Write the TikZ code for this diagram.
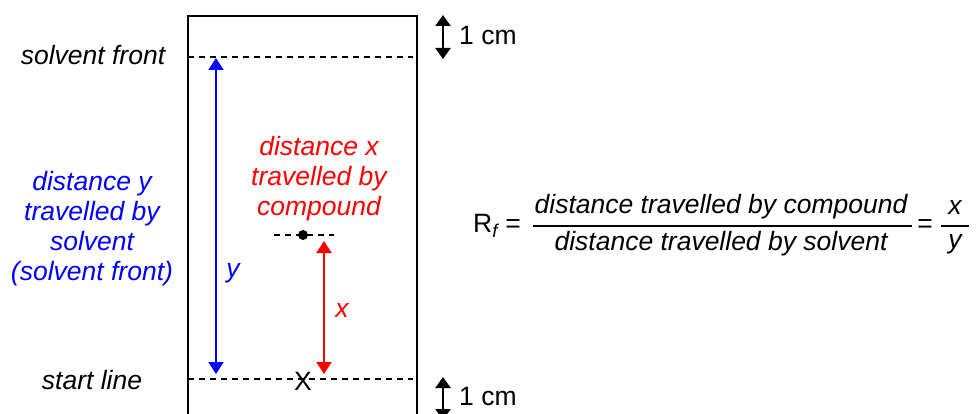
\documentclass[tikz,border=0pt]{standalone}
\usepackage{fontspec}
\setmainfont{Liberation Sans}
\usetikzlibrary{arrows.meta}
\begin{document}
\begin{tikzpicture}[x=1pt,y=-1pt,
  lbl/.style={font=\fontsize{26.5}{30}\selectfont\itshape, align=center, inner sep=0pt},
  rlbl/.style={font=\fontsize{26.5}{30}\selectfont, inner sep=0pt},
  dline/.style={line width=1.4pt, dash pattern=on 6pt off 5pt},
  dtip/.style={{Triangle[length=12pt,width=15pt]}-{Triangle[length=12pt,width=15pt]}},
  meas/.style={line width=2.2pt, {Triangle[length=11pt,width=15pt]}-{Triangle[length=11pt,width=15pt]}}
]
\useasboundingbox (0,0) rectangle (979,414);
% plate
\coordinate (pbl) at (188,414.5);
\coordinate (ptl) at (188,16);
\coordinate (ptr) at (417,16);
\coordinate (pbr) at (417,414.5);
\draw[line width=1.4pt] (pbl) -- (ptl) -- (ptr) -- (pbr);
% solvent front and start line
\coordinate (sfl) at (188,57);
\coordinate (sfr) at (413,57);
\coordinate (sll) at (188,379);
\coordinate (slr) at (413,379);
\draw[dline] (sfl) -- (sfr);
\draw[dline] (sll) -- (slr);
% spot line
\coordinate (spl) at (274,235);
\coordinate (spr) at (334,235);
\draw[dline] (spl) -- (spr);
\node[circle, fill=black, inner sep=0pt, minimum size=10pt] (spot) at (303,235) {};
% start mark
\node[rlbl] (xmark) at (303,381) {X};
% blue arrow
\coordinate (bt) at (216,58);
\coordinate (bb) at (216,374);
\draw[blue, line width=2.2pt, dtip] (bt) -- (bb);
\node[lbl, blue] (ylab) at (233,273) {y};
% red arrow
\coordinate (rt) at (324,241);
\coordinate (rb) at (324,374);
\draw[red, line width=2.2pt, dtip] (rt) -- (rb);
\node[lbl, red] (xlab) at (342,310) {x};
% 1 cm markers
\coordinate (ct1) at (443,15);
\coordinate (cb1) at (443,59);
\draw[meas] (ct1) -- (cb1);
\node[rlbl, anchor=west] (cm1) at (459,36) {1 cm};
\coordinate (ct2) at (443,377);
\coordinate (cb2) at (443,420);
\draw[meas] (ct2) -- (cb2);
\node[rlbl, anchor=west] (cm2) at (459,397) {1 cm};
% left labels
\node[lbl] (sflab) at (93,55) {solvent front};
\node[lbl] (sllab) at (92,380) {start line};
\node[lbl, blue] (ylong) at (92,229) {distance y\\travelled by\\solvent\\(solvent front)};
\node[lbl, red] (xlong) at (319,179) {distance x\\travelled by\\compound};
% formula
\node[rlbl, anchor=west] (rf) at (473,226) {R\textsubscript{\itshape f} =};
\node[lbl] (num) at (721,207) {distance travelled by compound};
\node[lbl] (den) at (721,244) {distance travelled by solvent};
\coordinate (b1l) at (533,226);
\coordinate (b1r) at (912,226);
\draw[line width=1.5pt] (b1l) -- (b1r);
\node[rlbl] (eq2) at (925,226) {=};
\node[lbl] (nx) at (955,207) {x};
\node[lbl] (dy) at (955,244) {y};
\coordinate (b2l) at (941,226);
\coordinate (b2r) at (969,226);
\draw[line width=1.5pt] (b2l) -- (b2r);
\end{tikzpicture}
\end{document}
